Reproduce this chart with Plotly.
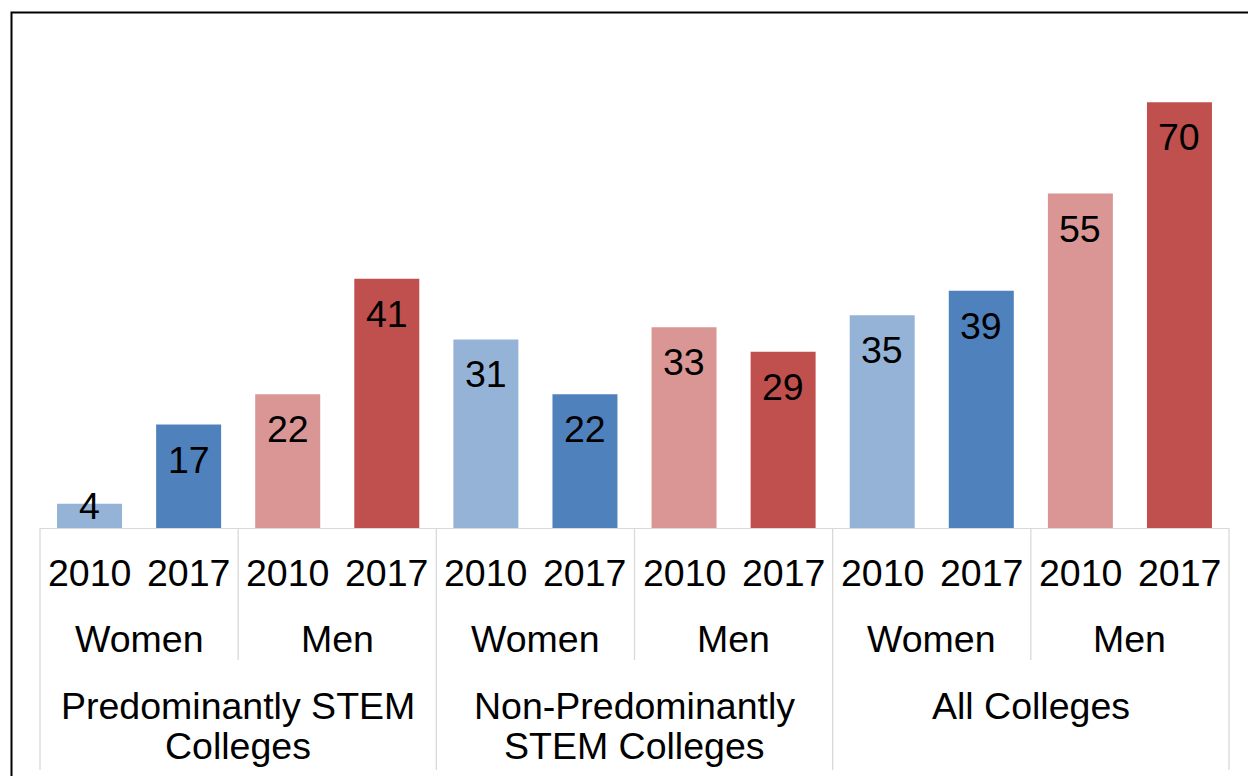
import plotly.graph_objects as go

# College groups (one list of text lines each), gender sub-groups and years
groups = [["Predominantly STEM", "Colleges"], ["Non-Predominantly", "STEM Colleges"], ["All Colleges"]]
genders = ["Women", "Men"]
years = ["2010", "2017"]

# One value per bar, ordered group -> gender -> year
values = [4, 17, 22, 41, 31, 22, 33, 29, 35, 39, 55, 70]

bar_colors = {
    ("Women", "2010"): "#95B3D7",
    ("Women", "2017"): "#4F81BD",
    ("Men", "2010"): "#D99694",
    ("Men", "2017"): "#C0504D",
}

W, H = 1248, 776
M_L, M_R, M_T, M_B = 40, 19, 40, 248
PLOT_H = H - M_T - M_B
Y_MAX = 80.25
PX_PER_UNIT = PLOT_H / Y_MAX

FONT = "Liberation Sans, Arial, sans-serif"
FS = 37.5
GRID = "#D9D9D9"
LINE_GAP = 40

n_bars = len(values)
xs = list(range(n_bars))
labels_year = []
colors = []
for g in groups:
    for gd in genders:
        for yr in years:
            labels_year.append(yr)
            colors.append(bar_colors[(gd, yr)])

fig = go.Figure(
    go.Bar(
        x=xs,
        y=values,
        marker=dict(color=colors, line=dict(width=0)),
        hoverinfo="skip",
    )
)

txt_font = dict(size=FS, color="black", family=FONT)
annotations = []
# value labels just inside the top of each bar
for x, v in zip(xs, values):
    shift = -min(35, v * PX_PER_UNIT - 22)
    annotations.append(dict(
        x=x, y=v, xref="x", yref="y", text=str(v), showarrow=False,
        yanchor="middle", yshift=shift, font=txt_font,
    ))

# innermost level: years
for x, yr in zip(xs, labels_year):
    annotations.append(dict(
        x=x, y=0, xref="x", yref="paper", text=yr, showarrow=False,
        yanchor="middle", yshift=-45, font=txt_font,
    ))

# middle level: gender, centered on each pair of bars
per_gender = len(years)
for k in range(len(groups) * len(genders)):
    cx = k * per_gender + (per_gender - 1) / 2
    annotations.append(dict(
        x=cx, y=0, xref="x", yref="paper", text=genders[k % len(genders)], showarrow=False,
        yanchor="middle", yshift=-111, font=txt_font,
    ))

# outer level: college groups, one annotation per text line
per_group = len(genders) * len(years)
for k, g in enumerate(groups):
    cx = k * per_group + (per_group - 1) / 2
    for j, line in enumerate(g):
        annotations.append(dict(
            x=cx, y=0, xref="x", yref="paper", text=line, showarrow=False,
            yanchor="middle", yshift=-178 - j * LINE_GAP, font=txt_font,
        ))

shapes = []
# divider lines of the category axis
for k in range(0, n_bars + 1, per_gender):
    depth = 242 if k % per_group == 0 else 132
    shapes.append(dict(
        type="line", xref="paper", yref="paper",
        x0=k / n_bars, x1=k / n_bars,
        ysizemode="pixel", yanchor=0, y0=0, y1=-depth,
        line=dict(color=GRID, width=1.3),
    ))

# outer chart border
shapes.append(dict(
    type="rect", xref="paper", yref="paper",
    xsizemode="pixel", xanchor=0, x0=-28.5, x1=1240,
    ysizemode="pixel", yanchor=1, y0=27.5, y1=-800,
    line=dict(color="black", width=2), fillcolor="rgba(0,0,0,0)",
))

fig.update_layout(
    width=W, height=H,
    margin=dict(l=M_L, r=M_R, t=M_T, b=M_B),
    paper_bgcolor="white", plot_bgcolor="white",
    bargap=0.344,
    showlegend=False,
    xaxis=dict(
        range=[-0.5, n_bars - 0.5], showticklabels=False, ticks="",
        showgrid=False, zeroline=False, showline=True, linecolor=GRID, linewidth=1.3,
    ),
    yaxis=dict(range=[0, Y_MAX], visible=False),
    annotations=annotations,
    shapes=shapes,
)

fig.write_html("out.html")
